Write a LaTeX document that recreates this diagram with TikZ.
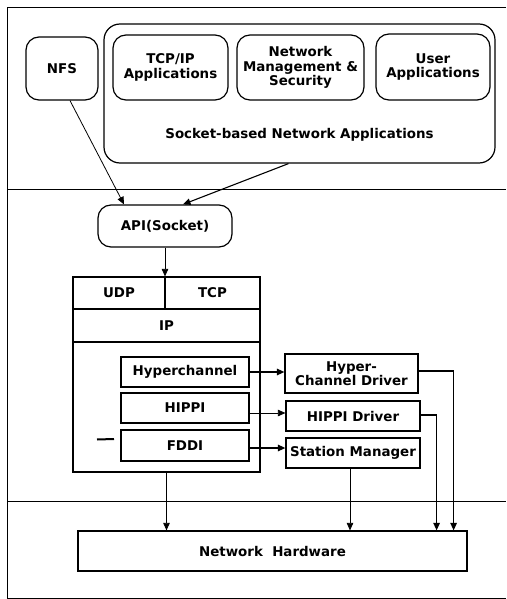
\documentclass[tikz,border=0pt]{standalone}
\usepackage{fontspec}
\setmainfont{DejaVu Sans}
\usetikzlibrary{arrows.meta}
\begin{document}
\begin{tikzpicture}[x=1pt,y=-1pt,
  every node/.style={font=\bfseries\fontsize{13.4}{14.2}\selectfont, align=center, inner sep=0pt},
  rbox/.style={draw, line width=1.2pt, rounded corners=13pt},
  sbox/.style={draw, line width=1.2pt},
  frame/.style={line width=0.8pt},
  conn/.style={line width=0.8pt, -{Triangle[length=7.5pt,width=6.5pt]}},
  boldconn/.style={conn, line width=1.4pt}
]
\useasboundingbox (0,0) rectangle (506,599);
% frame and dividers
\coordinate (ftl) at (7,7);
\coordinate (ftr) at (506,7);
\coordinate (fbl) at (7,598);
\coordinate (fbr) at (506,598);
\coordinate (d1l) at (7,189);
\coordinate (d1r) at (506,189);
\coordinate (d2l) at (7,501);
\coordinate (d2r) at (506,501);
\draw[frame] (ftr) -- (ftl) -- (fbl) -- (fbr);
\draw[frame] (d1l) -- (d1r);
\draw[frame] (d2l) -- (d2r);

% top layer
\node[rbox, minimum width=72pt, minimum height=63pt] (nfs) at (62,68.5) {NFS};
\node[rbox, rounded corners=16pt, minimum width=391pt, minimum height=139pt] (sock) at (299.5,93.5) {};
\node[rbox, minimum width=115pt, minimum height=65pt] (tcpip) at (170.5,67.5) {TCP/IP\\Applications};
\node[rbox, minimum width=127pt, minimum height=65pt] (nms) at (300.5,67.5) {Network\\Management \&\\Security};
\node[rbox, minimum width=114pt, minimum height=66pt] (user) at (433,67) {User\\Applications};
\node (socklabel) at (299.5,135) {Socket-based Network Applications};

% API
\node[rbox, minimum width=134pt, minimum height=42pt] (api) at (165,226) {API(Socket)};

% protocol stack
\node[sbox, minimum width=187pt, minimum height=195pt] (stack) at (166.5,374.5) {};
\node[sbox, minimum width=92pt, minimum height=32pt] (udp) at (119,293) {UDP};
\node[sbox, minimum width=95pt, minimum height=32pt] (tcp) at (212.5,293) {TCP};
\node[sbox, minimum width=187pt, minimum height=33pt] (ip) at (166.5,325.5) {IP};
\node[sbox, minimum width=128pt, minimum height=30pt] (hc) at (185,372) {Hyperchannel};
\node[sbox, minimum width=128pt, minimum height=30pt] (hippi) at (185,408) {HIPPI};
\node[sbox, minimum width=128pt, minimum height=31pt] (fddi) at (185,445.5) {FDDI};

% drivers
\node[sbox, minimum width=133pt, minimum height=39pt] (hcd) at (351.5,373.5) {Hyper-\\Channel Driver};
\node[sbox, minimum width=134pt, minimum height=30pt] (hippid) at (353,416) {HIPPI Driver};
\node[sbox, minimum width=134pt, minimum height=30pt] (sm) at (353,453) {Station Manager};

% hardware
\node[sbox, minimum width=389pt, minimum height=40pt] (nh) at (272.5,551) {Network\ \ Hardware};

% connector anchor points (yshift is in page direction: positive = up)
\coordinate (hippiout) at ([yshift=-5pt]hippi.east);
\coordinate (fddiout) at ([yshift=-2.5pt]fddi.east);
\coordinate (nfsout) at ([xshift=8pt]nfs.south);
\coordinate (sockout) at ([xshift=-11pt]sock.south);
\coordinate (apiin1) at ([xshift=-41pt]api.north);
\coordinate (apiin2) at ([xshift=18pt]api.north);
\coordinate (hcdout) at ([yshift=2.5pt]hcd.east);
\coordinate (hippidout) at ([yshift=1pt]hippid.east);
\coordinate (nhin1) at ([xshift=-14pt]nh.north east);
\coordinate (nhin2) at ([xshift=-31pt]nh.north east);
\coordinate (smout) at ([xshift=-3pt]sm.south);

% connectors
\draw[conn] (nfsout) -- (apiin1);
\draw[conn, line width=1.1pt] (sockout) -- (apiin2);
\draw[conn] (api.south) -- (api.south |- stack.north);
\draw[boldconn] (hc.east) -- (hcd.west |- hc.east);
\draw[conn] (hippiout) -- (hippid.west |- hippiout);
\draw[boldconn] (fddiout) -- (sm.west |- fddiout);
\draw[conn, line width=1.1pt] (hcdout) -| (nhin1);
\draw[conn, line width=1.1pt] (hippidout) -| (nhin2);
\draw[conn] (stack.south) -- (stack.south |- nh.north);
\draw[conn] (smout) -- (smout |- nh.north);

% stray mark left of FDDI
\coordinate (m1) at (97,439.5);
\coordinate (m2) at (114,439);
\draw[line width=2pt] (m1) -- (m2);
\end{tikzpicture}
\end{document}
